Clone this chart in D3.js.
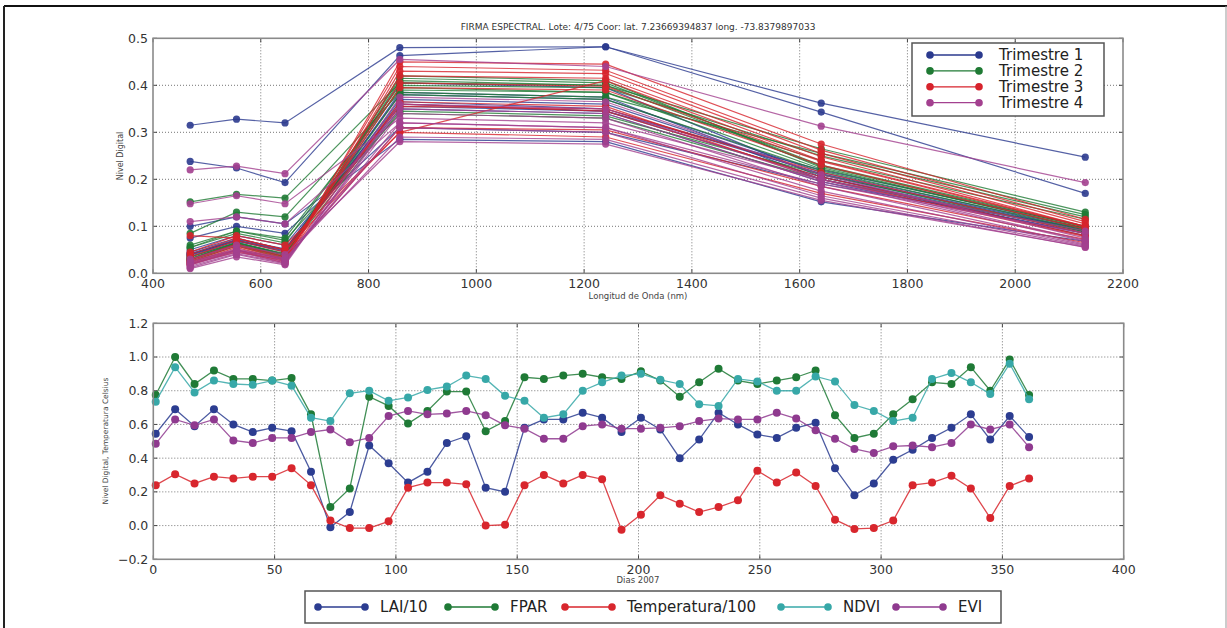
<!DOCTYPE html>
<html>
<head>
<meta charset="utf-8">
<script src="https://cdn.jsdelivr.net/npm/d3@7"></script>
<style>
  html, body { margin: 0; padding: 0; background: #fff; }
  svg { display: block; font-family: "DejaVu Sans", sans-serif; }
</style>
</head>
<body>
<svg id="chart" width="1227" height="628"></svg>
<script>
// ---------------- DATA ----------------
const titleText = "FIRMA ESPECTRAL. Lote: 4/75 Coor: lat. 7.23669394837 long. -73.8379897033";
const wavelengths = [469, 555, 645, 858, 1240, 1640, 2130];
const trimesterNames = ["Trimestre 1", "Trimestre 2", "Trimestre 3", "Trimestre 4"];
const trimesterColors = ["#2b3a8e", "#1f7a34", "#d7232c", "#a3408f"];

const spectraT1 = [
  [0.045, 0.075, 0.050, 0.380, 0.370, 0.215, 0.095],
  [0.030, 0.062, 0.035, 0.405, 0.395, 0.205, 0.080],
  [0.040, 0.070, 0.045, 0.370, 0.360, 0.210, 0.090],
  [0.035, 0.065, 0.040, 0.385, 0.375, 0.200, 0.085],
  [0.050, 0.080, 0.060, 0.355, 0.345, 0.220, 0.100],
  [0.042, 0.072, 0.052, 0.365, 0.350, 0.212, 0.092],
  [0.038, 0.068, 0.048, 0.360, 0.345, 0.205, 0.088],
  [0.040, 0.070, 0.050, 0.350, 0.340, 0.195, 0.085],
  [0.075, 0.100, 0.085, 0.310, 0.300, 0.190, 0.095],
  [0.315, 0.328, 0.320, 0.480, 0.482, 0.362, 0.247],
  [0.100, 0.120, 0.105, 0.285, 0.280, 0.152, 0.068],
  [0.238, 0.224, 0.193, 0.463, 0.482, 0.343, 0.170]
];
const spectraT2 = [
  [0.060, 0.090, 0.075, 0.390, 0.385, 0.240, 0.115],
  [0.055, 0.085, 0.065, 0.400, 0.395, 0.250, 0.120],
  [0.152, 0.168, 0.160, 0.405, 0.400, 0.265, 0.130],
  [0.085, 0.130, 0.120, 0.385, 0.375, 0.255, 0.125],
  [0.030, 0.065, 0.040, 0.415, 0.405, 0.230, 0.100],
  [0.025, 0.058, 0.032, 0.420, 0.410, 0.225, 0.095],
  [0.028, 0.060, 0.035, 0.410, 0.400, 0.228, 0.098],
  [0.030, 0.062, 0.038, 0.395, 0.385, 0.222, 0.096],
  [0.032, 0.064, 0.040, 0.380, 0.370, 0.218, 0.092],
  [0.035, 0.066, 0.042, 0.345, 0.335, 0.210, 0.088],
  [0.055, 0.090, 0.070, 0.340, 0.330, 0.200, 0.090]
];
const spectraT3 = [
  [0.020, 0.050, 0.025, 0.450, 0.445, 0.275, 0.115],
  [0.022, 0.055, 0.028, 0.440, 0.432, 0.262, 0.110],
  [0.018, 0.048, 0.022, 0.430, 0.425, 0.255, 0.105],
  [0.025, 0.058, 0.030, 0.420, 0.415, 0.248, 0.100],
  [0.080, 0.075, 0.050, 0.300, 0.410, 0.240, 0.100],
  [0.028, 0.060, 0.033, 0.405, 0.398, 0.238, 0.098],
  [0.030, 0.062, 0.036, 0.395, 0.390, 0.230, 0.094],
  [0.035, 0.070, 0.045, 0.355, 0.350, 0.215, 0.085],
  [0.040, 0.075, 0.050, 0.360, 0.345, 0.205, 0.080],
  [0.020, 0.045, 0.028, 0.365, 0.355, 0.200, 0.078],
  [0.025, 0.050, 0.030, 0.310, 0.305, 0.185, 0.072],
  [0.045, 0.080, 0.060, 0.300, 0.290, 0.170, 0.065]
];
const spectraT4 = [
  [0.220, 0.228, 0.212, 0.455, 0.440, 0.313, 0.193],
  [0.148, 0.165, 0.148, 0.330, 0.320, 0.200, 0.090],
  [0.110, 0.120, 0.105, 0.320, 0.310, 0.190, 0.085],
  [0.012, 0.040, 0.020, 0.375, 0.365, 0.210, 0.075],
  [0.010, 0.035, 0.018, 0.360, 0.350, 0.200, 0.070],
  [0.015, 0.042, 0.022, 0.350, 0.340, 0.195, 0.068],
  [0.018, 0.045, 0.025, 0.340, 0.330, 0.185, 0.062],
  [0.020, 0.048, 0.028, 0.320, 0.310, 0.175, 0.060],
  [0.022, 0.050, 0.030, 0.310, 0.300, 0.165, 0.058],
  [0.025, 0.052, 0.032, 0.290, 0.285, 0.160, 0.055],
  [0.030, 0.060, 0.040, 0.280, 0.275, 0.155, 0.056]
];

const days = [1, 9, 17, 25, 33, 41, 49, 57, 65, 73, 81, 89, 97, 105, 113, 121, 129, 137, 145, 153, 161, 169, 177,
  185, 193, 201, 209, 217, 225, 233, 241, 249, 257, 265, 273, 281, 289, 297, 305, 313, 321, 329, 337, 345, 353, 361];
const lai10 = [0.545, 0.69, 0.59, 0.69, 0.60, 0.555, 0.58, 0.56, 0.32, -0.01, 0.08, 0.475, 0.37, 0.255, 0.32, 0.49, 0.53, 0.225,
  0.20, 0.58, 0.63, 0.63, 0.67, 0.64, 0.555, 0.64, 0.57, 0.40, 0.51, 0.67, 0.60, 0.54, 0.52, 0.58, 0.61, 0.34, 0.18, 0.25,
  0.39, 0.45, 0.52, 0.58, 0.66, 0.51, 0.65, 0.525];
const fpar = [0.775, 1.0, 0.84, 0.92, 0.87, 0.87, 0.86, 0.875, 0.66, 0.11, 0.22, 0.765, 0.71, 0.605, 0.68, 0.795, 0.795, 0.56,
  0.62, 0.88, 0.87, 0.89, 0.90, 0.88, 0.87, 0.915, 0.86, 0.765, 0.85, 0.93, 0.86, 0.84, 0.86, 0.88, 0.92, 0.655, 0.52, 0.545,
  0.66, 0.75, 0.85, 0.84, 0.94, 0.80, 0.985, 0.775];
const temp100 = [0.24, 0.305, 0.25, 0.29, 0.28, 0.29, 0.29, 0.34, 0.24, 0.03, -0.015, -0.015, 0.025, 0.225, 0.255, 0.255, 0.245, 0.0,
  0.005, 0.24, 0.30, 0.25, 0.30, 0.275, -0.025, 0.065, 0.18, 0.13, 0.08, 0.11, 0.15, 0.325, 0.255, 0.315, 0.235, 0.035, -0.02, -0.015,
  0.03, 0.24, 0.255, 0.295, 0.22, 0.045, 0.235, 0.28];
const ndvi = [0.735, 0.94, 0.79, 0.86, 0.84, 0.835, 0.86, 0.83, 0.64, 0.62, 0.785, 0.80, 0.74, 0.76, 0.805, 0.825, 0.89, 0.87,
  0.77, 0.74, 0.64, 0.66, 0.80, 0.85, 0.89, 0.90, 0.865, 0.84, 0.72, 0.71, 0.87, 0.855, 0.80, 0.80, 0.885, 0.855, 0.715, 0.68,
  0.62, 0.64, 0.87, 0.905, 0.85, 0.78, 0.96, 0.75];
const evi = [0.485, 0.63, 0.595, 0.63, 0.505, 0.49, 0.52, 0.52, 0.555, 0.57, 0.495, 0.52, 0.65, 0.68, 0.66, 0.665, 0.68, 0.655,
  0.595, 0.575, 0.515, 0.515, 0.59, 0.60, 0.575, 0.575, 0.58, 0.59, 0.62, 0.635, 0.63, 0.63, 0.67, 0.635, 0.565, 0.515, 0.455, 0.43,
  0.47, 0.475, 0.465, 0.49, 0.60, 0.57, 0.60, 0.465];

const seriesNames = ["LAI/10", "FPAR", "Temperatura/100", "NDVI", "EVI"];
const seriesColors = ["#2c3d91", "#1f7a36", "#d8262d", "#37a8a8", "#8f3a8f"];

const topXTicks = [400, 600, 800, 1000, 1200, 1400, 1600, 1800, 2000, 2200];
const topYTicks = [0.0, 0.1, 0.2, 0.3, 0.4, 0.5];
const botXTicks = [0, 50, 100, 150, 200, 250, 300, 350, 400];
const botYTicks = [-0.2, 0.0, 0.2, 0.4, 0.6, 0.8, 1.0, 1.2];

// ---------------- DRAW ----------------
const svg = d3.select("#chart");

// outer frame
svg.append("line").attr("x1", 4).attr("x2", 1227).attr("y1", 6).attr("y2", 6).attr("stroke", "#111").attr("stroke-width", 2);
svg.append("line").attr("x1", 4).attr("x2", 4).attr("y1", 6).attr("y2", 628).attr("stroke", "#222").attr("stroke-width", 2);
svg.append("line").attr("x1", 1226).attr("x2", 1226).attr("y1", 6).attr("y2", 628).attr("stroke", "#999").attr("stroke-width", 1);

function drawAxesFrame(g, x, y, xTicks, yTicks, xFmt, yFmt) {
  const [x0, x1] = x.range();
  const [y0, y1] = y.range(); // y0 bottom, y1 top
  // grid
  g.append("g").selectAll("line").data(xTicks.slice(1, -1)).join("line")
    .attr("x1", d => x(d)).attr("x2", d => x(d)).attr("y1", y1).attr("y2", y0)
    .attr("stroke", "#666").attr("stroke-width", 0.9).attr("stroke-dasharray", "1,2");
  g.append("g").selectAll("line").data(yTicks.slice(1, -1)).join("line")
    .attr("y1", d => y(d)).attr("y2", d => y(d)).attr("x1", x0).attr("x2", x1)
    .attr("stroke", "#666").attr("stroke-width", 0.9).attr("stroke-dasharray", "1,2");
  // tick marks (inward, all sides)
  const tk = g.append("g").attr("stroke", "#444").attr("stroke-width", 1);
  xTicks.forEach(d => {
    tk.append("line").attr("x1", x(d)).attr("x2", x(d)).attr("y1", y0).attr("y2", y0 - 4);
    tk.append("line").attr("x1", x(d)).attr("x2", x(d)).attr("y1", y1).attr("y2", y1 + 4);
  });
  yTicks.forEach(d => {
    tk.append("line").attr("y1", y(d)).attr("y2", y(d)).attr("x1", x0).attr("x2", x0 + 4);
    tk.append("line").attr("y1", y(d)).attr("y2", y(d)).attr("x1", x1).attr("x2", x1 - 4);
  });
  // tick labels
  g.append("g").selectAll("text").data(xTicks).join("text")
    .attr("x", d => x(d)).attr("y", y0 + 10).attr("dy", "0.35em")
    .attr("text-anchor", "middle").attr("font-size", 12.5).attr("fill", "#333").text(xFmt);
  g.append("g").selectAll("text").data(yTicks).join("text")
    .attr("x", x0 - 5).attr("y", d => y(d)).attr("dy", "0.35em")
    .attr("text-anchor", "end").attr("font-size", 12.5).attr("fill", "#333").text(yFmt);
}

function drawBorder(g, x, y) {
  const [x0, x1] = x.range();
  const [y0, y1] = y.range();
  g.append("rect").attr("x", x0).attr("y", y1).attr("width", x1 - x0).attr("height", y0 - y1)
    .attr("fill", "none").attr("stroke", "#8a8a8a").attr("stroke-width", 1.6);
}

// ---- Top chart ----
const xTop = d3.scaleLinear().domain([400, 2200]).range([153, 1123]);
const yTop = d3.scaleLinear().domain([0, 0.5]).range([273.3, 38.3]);
const gTop = svg.append("g");
drawAxesFrame(gTop, xTop, yTop, topXTicks, topYTicks, d => d3.format("d")(d), d => d3.format(".1f")(d));

const allSpectra = [];
[spectraT1, spectraT2, spectraT3, spectraT4].forEach((arr, t) => arr.forEach(v => allSpectra.push({ t, v })));

const lineTop = d3.line().x((d, i) => xTop(wavelengths[i])).y(d => yTop(d));
const specG = gTop.append("g");
allSpectra.forEach(s => {
  const c = trimesterColors[s.t];
  specG.append("path").attr("d", lineTop(s.v)).attr("fill", "none")
    .attr("stroke", c).attr("stroke-width", 1.2).attr("stroke-opacity", 0.8);
  specG.append("g").selectAll("circle").data(s.v).join("circle")
    .attr("cx", (d, i) => xTop(wavelengths[i])).attr("cy", d => yTop(d)).attr("r", 3.6)
    .attr("fill", c).attr("fill-opacity", 0.9);
});
drawBorder(gTop, xTop, yTop);

gTop.append("text").attr("x", 638).attr("y", 27).attr("dy", "0.35em").attr("text-anchor", "middle")
  .attr("font-size", 9).attr("fill", "#333").text(titleText);
gTop.append("text").attr("x", 638).attr("y", 296).attr("dy", "0.35em").attr("text-anchor", "middle")
  .attr("font-size", 8.5).attr("fill", "#444").text("Longitud de Onda (nm)");
gTop.append("text").attr("transform", "translate(120,156) rotate(-90)").attr("dy", "0.35em")
  .attr("text-anchor", "middle").attr("font-size", 8).attr("fill", "#444").text("Nivel Digital");

// top legend
const lgT = gTop.append("g");
lgT.append("rect").attr("x", 912).attr("y", 43).attr("width", 192).attr("height", 73)
  .attr("fill", "#fff").attr("stroke", "#555").attr("stroke-width", 1.5);
trimesterNames.forEach((name, i) => {
  const yy = 55 + i * 15.9;
  lgT.append("line").attr("x1", 930).attr("x2", 979).attr("y1", yy).attr("y2", yy)
    .attr("stroke", trimesterColors[i]).attr("stroke-width", 1.3);
  [930, 979].forEach(cx => lgT.append("circle").attr("cx", cx).attr("cy", yy).attr("r", 3.8).attr("fill", trimesterColors[i]));
  lgT.append("text").attr("x", 999).attr("y", yy).attr("dy", "0.36em").attr("font-size", 15)
    .attr("fill", "#222").text(name);
});

// ---- Bottom chart ----
const xBot = d3.scaleLinear().domain([0, 400]).range([153.3, 1123.7]);
const yBot = d3.scaleLinear().domain([-0.2, 1.2]).range([559.3, 323.3]);
const gBot = svg.append("g");
drawAxesFrame(gBot, xBot, yBot, botXTicks, botYTicks, d => d3.format("d")(d),
  d => (d < 0 ? "\u2212" + d3.format(".1f")(-d) : d3.format(".1f")(d)));

const seriesData = [lai10, fpar, temp100, ndvi, evi];
const lineBot = d3.line().x((d, i) => xBot(days[i])).y(d => yBot(d));
seriesData.forEach((vals, k) => {
  const c = seriesColors[k];
  const sg = gBot.append("g");
  sg.append("path").attr("d", lineBot(vals)).attr("fill", "none")
    .attr("stroke", c).attr("stroke-width", 1.3).attr("stroke-opacity", 0.85);
  sg.selectAll("circle").data(vals).join("circle")
    .attr("cx", (d, i) => xBot(days[i])).attr("cy", d => yBot(d)).attr("r", 4).attr("fill", c);
});
drawBorder(gBot, xBot, yBot);

gBot.append("text").attr("x", 638).attr("y", 580).attr("dy", "0.35em").attr("text-anchor", "middle")
  .attr("font-size", 8.5).attr("fill", "#444").text("Dias 2007");
gBot.append("text").attr("transform", "translate(105,441) rotate(-90)").attr("dy", "0.35em")
  .attr("text-anchor", "middle").attr("font-size", 7.5).attr("fill", "#444").text("Nivel Digital, Temperatura Celsius");

// bottom legend
const lgB = gBot.append("g");
lgB.append("rect").attr("x", 305).attr("y", 591).attr("width", 696).attr("height", 32)
  .attr("fill", "#fff").attr("stroke", "#555").attr("stroke-width", 1.5);
const legX = [318, 448, 565, 781, 896];
seriesNames.forEach((name, i) => {
  const yy = 607;
  const xa = legX[i], xb = legX[i] + 47;
  lgB.append("line").attr("x1", xa).attr("x2", xb).attr("y1", yy).attr("y2", yy)
    .attr("stroke", seriesColors[i]).attr("stroke-width", 1.3);
  [xa, xb].forEach(cx => lgB.append("circle").attr("cx", cx).attr("cy", yy).attr("r", 3.8).attr("fill", seriesColors[i]));
  lgB.append("text").attr("x", xb + 15).attr("y", yy).attr("dy", "0.36em").attr("font-size", 15)
    .attr("fill", "#222").text(name);
});
</script>
</body>
</html>
